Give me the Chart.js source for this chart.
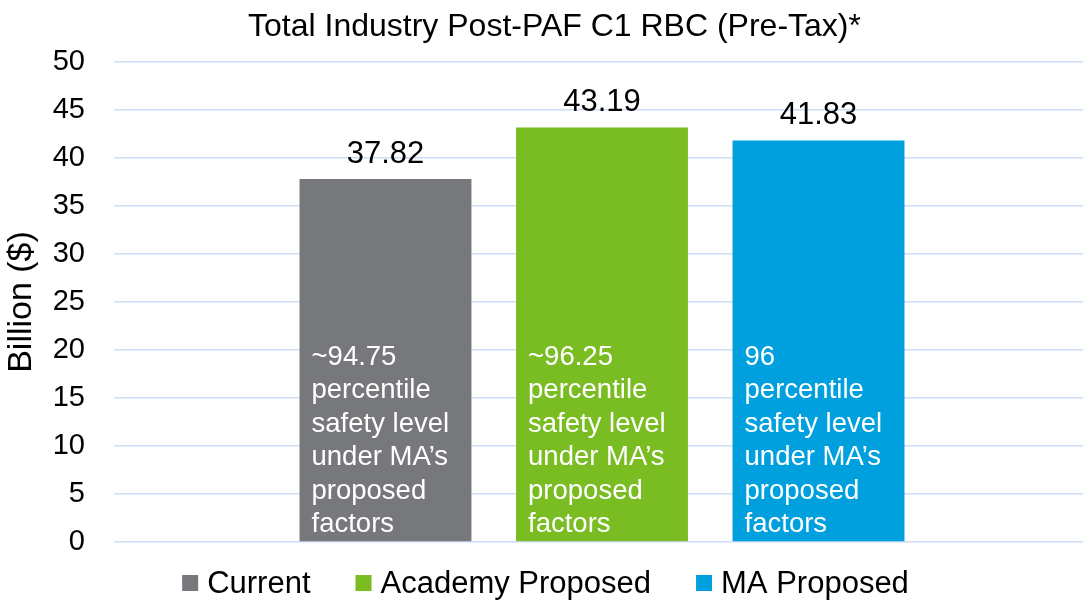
<!DOCTYPE html>
<html>
<head>
<meta charset="utf-8">
<script src="https://cdn.jsdelivr.net/npm/chart.js@4.4.0/dist/chart.umd.min.js"></script>
<style>
  html, body { margin: 0; padding: 0; background: #ffffff; }
  #wrap { width: 1083px; height: 600px; overflow: hidden; }
</style>
</head>
<body>
<div id="wrap"><canvas id="c" width="1083" height="600"></canvas></div>
<script>
// ---- data ----
const categories = [''];
const seriesNames = ['Current', 'Academy Proposed', 'MA Proposed'];
const seriesValues = [37.82, 43.19, 41.83];
const valueLabels = ['37.82', '43.19', '41.83'];
const barNotes = [
  ['~94.75', 'percentile', 'safety level', 'under MA\u2019s', 'proposed', 'factors'],
  ['~96.25', 'percentile', 'safety level', 'under MA\u2019s', 'proposed', 'factors'],
  ['96', 'percentile', 'safety level', 'under MA\u2019s', 'proposed', 'factors']
];
const yTickValues = [0, 5, 10, 15, 20, 25, 30, 35, 40, 45, 50];
const chartTitle = 'Total Industry Post-PAF C1 RBC (Pre-Tax)*';
const yAxisTitle = 'Billion ($)';

// ---- style ----
const palette = ['#76787B', '#7ABD22', '#00A0DF'];
const FONT = '"Liberation Sans", Arial, Helvetica, sans-serif';

const datasets = seriesNames.map((name, i) => ({
  label: name,
  data: [seriesValues[i]],
  backgroundColor: palette[i],
  borderWidth: 0,
  categoryPercentage: 0.6752,
  barPercentage: 0.794
}));

// the category band starts slightly inside the plot area (as in the original)
const bandPlugin = {
  id: 'bandInset',
  afterLayout(chart) {
    const s = chart.scales.x;
    s.left = chart.chartArea.left + 7;
    s.width = s.right - s.left;
    s.configure();
  }
};

const titlePlugin = {
  id: 'customTitle',
  afterDraw(chart) {
    const ctx = chart.ctx;
    ctx.save();
    ctx.font = '32px ' + FONT;
    ctx.fillStyle = '#000000';
    ctx.textAlign = 'center';
    ctx.textBaseline = 'alphabetic';
    ctx.fillText(chartTitle, chart.width / 2 + 13, 36);
    ctx.restore();
  }
};

const labelsPlugin = {
  id: 'barTexts',
  afterDatasetsDraw(chart) {
    const ctx = chart.ctx;
    ctx.save();
    chart.data.datasets.forEach((ds, i) => {
      const meta = chart.getDatasetMeta(i);
      meta.data.forEach((bar) => {
        ctx.font = '31px ' + FONT;
        ctx.fillStyle = '#000000';
        ctx.textAlign = 'center';
        ctx.textBaseline = 'alphabetic';
        ctx.fillText(valueLabels[i], bar.x, bar.y - 16);
        const left = bar.x - bar.width / 2;
        const lines = barNotes[i];
        ctx.font = '27.5px ' + FONT;
        ctx.fillStyle = '#ffffff';
        ctx.textAlign = 'left';
        const lh = 33.5;
        lines.forEach((ln, k) => {
          const y = bar.base - 9 - (lines.length - 1 - k) * lh;
          ctx.fillText(ln, left + 12, y);
        });
      });
    });
    ctx.restore();
  }
};

const legendPlugin = {
  id: 'customLegend',
  afterDraw(chart) {
    const ctx = chart.ctx;
    ctx.save();
    ctx.font = '31px ' + FONT;
    const box = 16, gapBox = 9, gapItem = 45;
    const items = chart.data.datasets.map((ds) => ({
      text: ds.label, color: ds.backgroundColor, w: ctx.measureText(ds.label).width
    }));
    let total = 0;
    items.forEach((it, k) => { total += box + gapBox + it.w + (k < items.length - 1 ? gapItem : 0); });
    let x = chart.width / 2 - total / 2 + 4;
    const cy = chart.height - 17;
    items.forEach((it) => {
      ctx.fillStyle = it.color;
      ctx.fillRect(x, cy - box / 2, box, box);
      ctx.fillStyle = '#000000';
      ctx.textAlign = 'left';
      ctx.textBaseline = 'middle';
      ctx.fillText(it.text, x + box + gapBox, cy + 1);
      x += box + gapBox + it.w + gapItem;
    });
    ctx.restore();
  }
};

new Chart(document.getElementById('c'), {
  type: 'bar',
  data: { labels: categories, datasets: datasets },
  options: {
    responsive: false,
    devicePixelRatio: 1,
    animation: false,
    layout: { padding: { left: 0, right: 0, top: 62, bottom: 58 } },
    plugins: {
      legend: { display: false },
      tooltip: { enabled: false },
      title: { display: false }
    },
    scales: {
      x: { display: false },
      y: {
        min: 0,
        max: 50,
        afterBuildTicks(scale) { scale.ticks = yTickValues.map(v => ({ value: v })); },
        afterFit(scale) { scale.width = 114; },
        border: { display: false },
        grid: { color: '#D0DBF8', lineWidth: 1.5, drawTicks: false },
        ticks: {
          color: '#000000',
          padding: 29,
          font: { family: FONT, size: 29 }
        },
        title: {
          display: true,
          text: yAxisTitle,
          color: '#000000',
          font: { family: FONT, size: 34 },
          padding: { top: 1, bottom: 0 }
        }
      }
    }
  },
  plugins: [bandPlugin, labelsPlugin, legendPlugin, titlePlugin]
});
</script>
</body>
</html>
